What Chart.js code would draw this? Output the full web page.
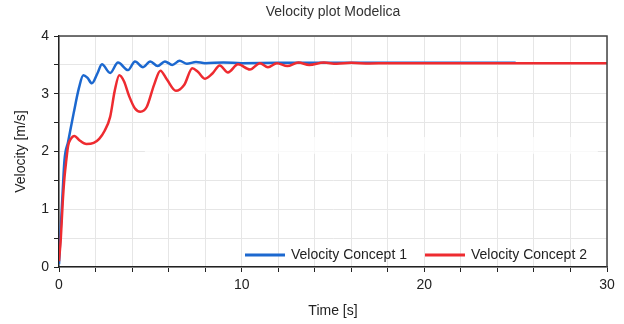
<!DOCTYPE html>
<html lang="en">
<head>
    <meta charset="UTF-8">
    <title>Velocity plot Modelica</title>
    <script src="https://cdn.jsdelivr.net/npm/chart.js"></script>
    <style>
        body { margin: 0; background: #fff; }
        #wrap { width: 624px; height: 324px; }
    </style>
</head>
<body>
    <div id="wrap">
        <canvas id="velocityChart" width="624" height="324"></canvas>
    </div>

    <script>
        // time [s] / velocity [m/s]
        const concept1Time = [0, 0.1, 0.2, 0.3, 0.5, 0.8, 1.1, 1.33, 1.55, 1.8, 2.1, 2.35, 2.8, 3.23, 3.78, 4.16, 4.6, 5.0, 5.4, 5.8, 6.2, 6.6, 7.0, 7.5, 8.0, 9.0, 10.0, 12.0, 25.0];
        const concept1Vel  = [0.05, 0.7, 1.3, 1.85, 2.17, 2.66, 3.11, 3.32, 3.28, 3.18, 3.35, 3.51, 3.36, 3.54, 3.41, 3.56, 3.46, 3.56, 3.48, 3.56, 3.5, 3.57, 3.52, 3.55, 3.53, 3.54, 3.53, 3.535, 3.535];

        const concept2Time = [0, 0.1, 0.2, 0.3, 0.4, 0.5, 0.65, 0.85, 1.1, 1.5, 1.9, 2.2, 2.5, 2.8, 3.05, 3.3, 3.55, 3.85, 4.15, 4.45, 4.8, 5.2, 5.55, 5.9, 6.4, 6.85, 7.3, 7.6, 8.0, 8.4, 8.8, 9.25, 9.8, 10.45, 11.0, 11.44, 11.93, 12.5, 13.1, 13.7, 14.5, 15.2, 16.0, 17.0, 18.0, 30.0];
        const concept2Vel  = [0.1, 0.5, 1.1, 1.55, 1.85, 2.1, 2.22, 2.27, 2.2, 2.13, 2.15, 2.22, 2.36, 2.6, 3.05, 3.32, 3.22, 2.95, 2.75, 2.69, 2.77, 3.15, 3.4, 3.25, 3.05, 3.15, 3.44, 3.38, 3.26, 3.35, 3.49, 3.37, 3.51, 3.42, 3.53, 3.46, 3.53, 3.48, 3.54, 3.5, 3.54, 3.52, 3.535, 3.525, 3.53, 3.53];

        const seriesNames = ['Velocity Concept 1', 'Velocity Concept 2'];
        const seriesColors = ['#1c68cf', '#ee2b30'];

        const fontFamily = 'Arial, "Liberation Sans", sans-serif';
        const textColor = '#222';

        function toPoints(times, values) {
            return times.map((t, i) => ({ x: t, y: values[i] }));
        }

        // title centered over the plot area, frame, and in-plot legend
        const decorations = {
            id: 'decorations',
            beforeDatasetsDraw(chart) {
                const { ctx } = chart;
                const xs = chart.scales.x, ys = chart.scales.y;
                // faint white band seen in the source screenshot
                ctx.save();
                ctx.fillStyle = 'rgba(255,255,255,0.75)';
                const bx = xs.getPixelForValue(4.7), bx2 = xs.getPixelForValue(29.5);
                const by = ys.getPixelForValue(2.25), by2 = ys.getPixelForValue(1.96);
                ctx.fillRect(bx, by, bx2 - bx, by2 - by);
                ctx.restore();
            },
            afterDraw(chart) {
                const { ctx, chartArea } = chart;
                ctx.save();
                // top / right frame
                ctx.strokeStyle = '#444';
                ctx.lineWidth = 1.5;
                ctx.beginPath();
                ctx.moveTo(chartArea.left, chartArea.top);
                ctx.lineTo(chartArea.right, chartArea.top);
                ctx.lineTo(chartArea.right, chartArea.bottom);
                ctx.stroke();

                // title
                ctx.fillStyle = '#333';
                ctx.font = '14px ' + fontFamily;
                ctx.textAlign = 'center';
                ctx.textBaseline = 'middle';
                ctx.fillText('Velocity plot Modelica', (chartArea.left + chartArea.right) / 2, 12);

                // legend
                const ly = chartArea.bottom - 12;
                const entries = [{ x: 245 }, { x: 425 }];
                ctx.textAlign = 'left';
                chart.data.datasets.forEach((ds, i) => {
                    const x0 = entries[i].x;
                    ctx.strokeStyle = ds.borderColor;
                    ctx.lineWidth = 3;
                    ctx.beginPath();
                    ctx.moveTo(x0, ly);
                    ctx.lineTo(x0 + 40, ly);
                    ctx.stroke();
                    ctx.fillStyle = textColor;
                    ctx.fillText(ds.label, x0 + 46, ly);
                });
                ctx.restore();
            }
        };

        const ctx = document.getElementById('velocityChart').getContext('2d');
        new Chart(ctx, {
            type: 'line',
            data: {
                datasets: [
                    {
                        label: seriesNames[0],
                        data: toPoints(concept1Time, concept1Vel),
                        borderColor: seriesColors[0],
                        borderWidth: 2.5,
                        pointRadius: 0,
                        cubicInterpolationMode: 'monotone',
                        order: 2
                    },
                    {
                        label: seriesNames[1],
                        data: toPoints(concept2Time, concept2Vel),
                        borderColor: seriesColors[1],
                        borderWidth: 2.5,
                        pointRadius: 0,
                        cubicInterpolationMode: 'monotone',
                        order: 1
                    }
                ]
            },
            options: {
                responsive: false,
                animation: false,
                layout: { padding: { top: 36, right: 17, bottom: 0, left: 0 } },
                plugins: {
                    legend: { display: false },
                    title: { display: false },
                    tooltip: { enabled: false }
                },
                scales: {
                    x: {
                        type: 'linear',
                        min: 0,
                        max: 30,
                        afterFit: s => { s.height = 57; },
                        ticks: {
                            stepSize: 2,
                            autoSkip: false,
                            maxRotation: 0,
                            padding: 5,
                            color: textColor,
                            font: { family: fontFamily, size: 14 },
                            callback: v => (v % 10 === 0 ? v : '')
                        },
                        grid: { color: '#e6e6e6', tickColor: '#222', tickLength: 5 },
                        border: { color: '#222', width: 1.5 },
                        title: {
                            display: true,
                            text: 'Time [s]',
                            color: textColor,
                            font: { family: fontFamily, size: 14 },
                            padding: { top: 0, bottom: 4 }
                        }
                    },
                    y: {
                        min: 0,
                        max: 4,
                        afterFit: s => { s.width = 59; },
                        ticks: {
                            stepSize: 0.5,
                            autoSkip: false,
                            padding: 5,
                            color: textColor,
                            font: { family: fontFamily, size: 14 },
                            callback: v => (Number.isInteger(v) ? v : '')
                        },
                        grid: { color: '#e6e6e6', tickColor: '#222', tickLength: 5 },
                        border: { color: '#222', width: 1.5 },
                        title: {
                            display: true,
                            text: 'Velocity [m/s]',
                            color: textColor,
                            font: { family: fontFamily, size: 14 },
                            padding: { top: 13, bottom: 0 }
                        }
                    }
                }
            },
            plugins: [decorations]
        });
    </script>
</body>
</html>
